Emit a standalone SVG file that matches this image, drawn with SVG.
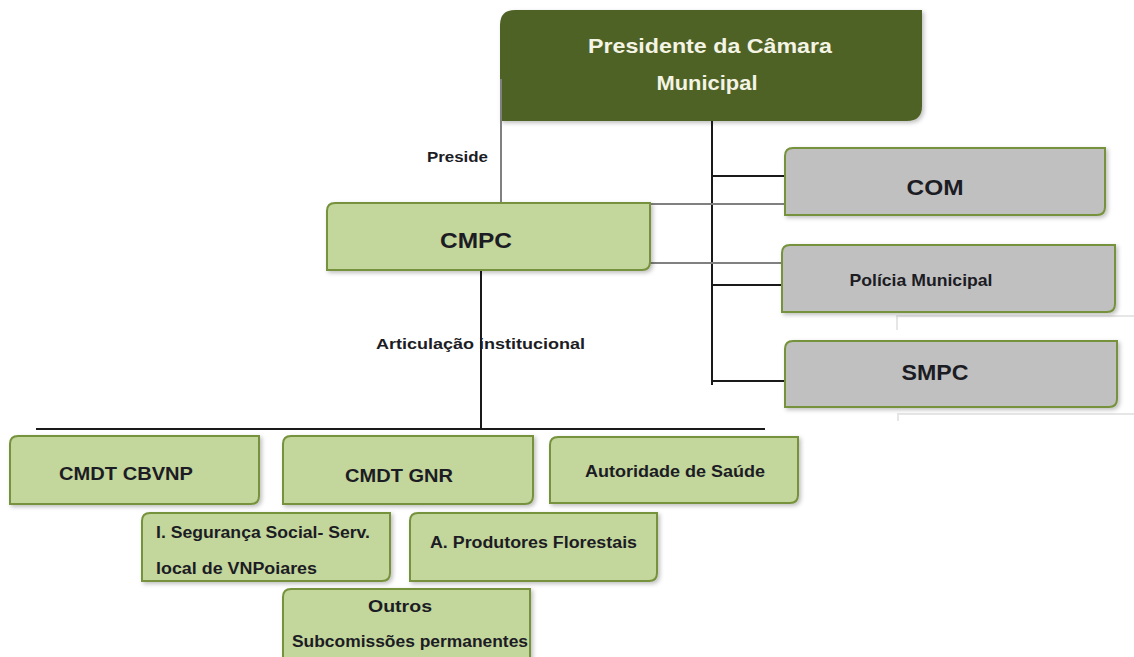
<svg xmlns="http://www.w3.org/2000/svg" width="1134" height="657" viewBox="0 0 1134 657">
<defs>
<filter id="sh" x="-5%" y="-10%" width="115%" height="130%">
<feDropShadow dx="2" dy="2" stdDeviation="2" flood-color="#000" flood-opacity="0.25"/>
</filter>
</defs>
<style>
.g{fill:#c3d69b;stroke:#76923c;stroke-width:2}
.gr{fill:#c0c0c0;stroke:#76923c;stroke-width:2}
.t{font-family:"Liberation Sans",Arial,sans-serif;font-weight:bold;fill:#1c1c24}
.c{text-anchor:middle}
.bk{stroke:#1a1a1a;stroke-width:2;fill:none}
.gy{stroke:#808080;stroke-width:2;fill:none}
.fa{stroke:#e6e6e6;stroke-width:2;fill:none}
</style>
<rect width="1134" height="657" fill="#fff"/>

<g id="faint">
<path class="fa" d="M897 330 V316 H1134 M898 421 V414 H1134"/>
</g>

<g id="presidente">
<path d="M515 10 H922 V106 Q922 121 907 121 H500 V25 Q500 10 515 10 Z" fill="#4f6228" filter="url(#sh)"/>
<text class="t c" x="710" y="53" font-size="21" textLength="244" lengthAdjust="spacingAndGlyphs" style="fill:#f4f4e4">Presidente da Câmara</text>
<text class="t c" x="707" y="90" font-size="21" textLength="101" lengthAdjust="spacingAndGlyphs" style="fill:#f4f4e4">Municipal</text>
</g>

<g id="connectors">
<path class="gy" d="M501 79 V203"/>
<path class="bk" d="M712 121 V385"/>
<path class="bk" d="M712 176 H786 M712 285 H782 M712 381 H786"/>
<path class="gy" d="M650 204 H786 M650 263 H783"/>
<path class="bk" d="M481 270 V430 M36 429 H765"/>
</g>

<g id="cmpc">
<path class="g" d="M335 203 H650 V262 Q650 270 642 270 H327 V211 Q327 203 335 203 Z" filter="url(#sh)"/>
<text class="t c" x="476" y="248" font-size="22" textLength="72" lengthAdjust="spacingAndGlyphs">CMPC</text>
</g>

<g id="com">
<path class="gr" d="M793 148 H1105 V207 Q1105 215 1097 215 H785 V156 Q785 148 793 148 Z" filter="url(#sh)"/>
<text class="t c" x="935" y="195" font-size="22" textLength="57" lengthAdjust="spacingAndGlyphs">COM</text>
</g>

<g id="policia">
<path class="gr" d="M790 245 H1115 V304 Q1115 312 1107 312 H782 V253 Q782 245 790 245 Z" filter="url(#sh)"/>
<text class="t c" x="921" y="286" font-size="17" textLength="143" lengthAdjust="spacingAndGlyphs">Polícia Municipal</text>
</g>

<g id="smpc">
<path class="gr" d="M793 341 H1117 V399 Q1117 407 1109 407 H785 V349 Q785 341 793 341 Z" filter="url(#sh)"/>
<text class="t c" x="935" y="380" font-size="22" textLength="67" lengthAdjust="spacingAndGlyphs">SMPC</text>
</g>

<g id="labels">
<text class="t" x="427" y="162" font-size="14" textLength="61" lengthAdjust="spacingAndGlyphs">Preside</text>
<text class="t" x="376" y="349" font-size="15" textLength="209" lengthAdjust="spacingAndGlyphs">Articulação institucional</text>
</g>

<g id="cmdt-cbvnp">
<path class="g" d="M18 436 H259 V496 Q259 504 251 504 H10 V444 Q10 436 18 436 Z" filter="url(#sh)"/>
<text class="t c" x="126" y="480" font-size="18" textLength="134" lengthAdjust="spacingAndGlyphs">CMDT CBVNP</text>
</g>

<g id="cmdt-gnr">
<path class="g" d="M291 436 H533 V496 Q533 504 525 504 H283 V444 Q283 436 291 436 Z" filter="url(#sh)"/>
<text class="t c" x="399" y="482" font-size="18" textLength="108" lengthAdjust="spacingAndGlyphs">CMDT GNR</text>
</g>

<g id="autoridade-saude">
<path class="g" d="M558 437 H798 V495 Q798 503 790 503 H550 V445 Q550 437 558 437 Z" filter="url(#sh)"/>
<text class="t c" x="675" y="477" font-size="16" textLength="180" lengthAdjust="spacingAndGlyphs">Autoridade de Saúde</text>
</g>

<g id="seguranca-social">
<path class="g" d="M150 513 H390 V573 Q390 581 382 581 H142 V521 Q142 513 150 513 Z" filter="url(#sh)"/>
<text class="t" x="156" y="538" font-size="16" textLength="214" lengthAdjust="spacingAndGlyphs">I. Segurança Social- Serv.</text>
<text class="t" x="156" y="574" font-size="16" textLength="161" lengthAdjust="spacingAndGlyphs">local de VNPoiares</text>
</g>

<g id="produtores-florestais">
<path class="g" d="M418 513 H657 V573 Q657 581 649 581 H410 V521 Q410 513 418 513 Z" filter="url(#sh)"/>
<text class="t" x="430" y="548" font-size="16" textLength="207" lengthAdjust="spacingAndGlyphs">A. Produtores Florestais</text>
</g>

<g id="outros">
<path class="g" d="M291 589 H530 V660 H283 V597 Q283 589 291 589 Z" filter="url(#sh)"/>
<text class="t c" x="400" y="612" font-size="16" textLength="64" lengthAdjust="spacingAndGlyphs">Outros</text>
<text class="t" x="292" y="647" font-size="16" textLength="236" lengthAdjust="spacingAndGlyphs">Subcomissões permanentes</text>
</g>
</svg>
